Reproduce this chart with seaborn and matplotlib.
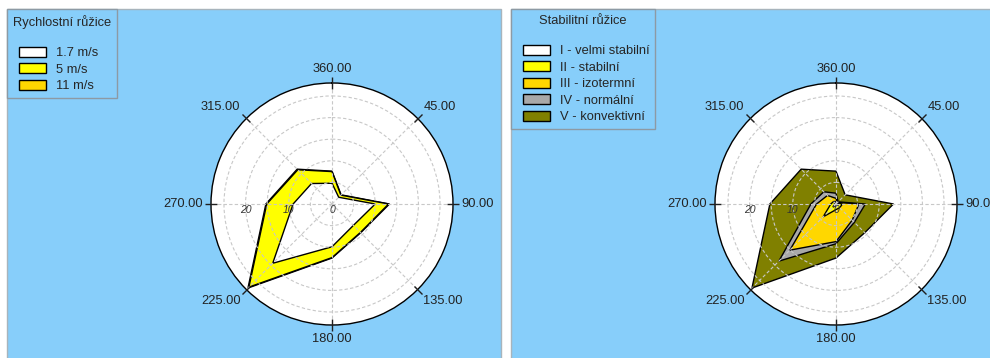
import numpy as np
import matplotlib
matplotlib.use("Agg")
import matplotlib.pyplot as plt
from matplotlib.patches import Rectangle, Patch
from matplotlib.legend_handler import HandlerPatch
from matplotlib.transforms import ScaledTranslation
import seaborn as sns

# ---------------- data ----------------
directions = [0, 45, 90, 135, 180, 225, 270, 315]
direction_labels = ["360.00", "45.00", "90.00", "135.00", "180.00", "225.00", "270.00", "315.00"]

speed_title = "Rychlostní růžice"
speed_labels = ["1.7 m/s", "5 m/s", "11 m/s"]
speed_1_7 = [4.8, 2.2, 10.0, 7.0, 9.9, 19.4, 9.0, 6.7]
speed_5 = [2.7, 0.7, 3.1, 2.3, 2.5, 7.8, 6.1, 4.5]
speed_11 = [0.1, 0.1, 0.2, 0.1, 0.1, 0.3, 0.2, 0.2]
speed_colors = ["#FFFFFF", "#FFFF00", "#FFD700"]

stab_title = "Stabilitní růžice"
stab_labels = ["I - velmi stabilní", "II - stabilní", "III - izotermní", "IV - normální", "V - konvektivní"]
stab_I = [0.3, 0.1, 0.4, 0.3, 0.4, 1.0, 0.4, 0.3]
stab_II = [0.3, 0.2, 1.1, 0.9, 0.9, 3.2, 0.8, 0.5]
stab_III = [0.7, 0.2, 3.8, 4.1, 7.4, 10.9, 3.3, 2.0]
stab_IV = [1.2, 0.2, 1.5, 0.7, 0.5, 3.6, 1.3, 1.2]
stab_V = [5.1, 2.3, 6.5, 3.4, 3.3, 8.8, 9.5, 7.4]
stab_colors = ["#FFFFFF", "#FFFF00", "#FFD700", "#A9A9A9", "#808000"]

radial_ticks = [0, 5, 10, 15, 20, 25]
radial_labels = ["0", "", "10", "", "20", ""]
r_max = 28

# ---------------- style ----------------
sns.set_theme(style="white")
plt.rcParams["font.family"] = ["Liberation Sans", "DejaVu Sans"]

PANEL = "#87CEFA"
W, H = 990, 358
FS = 9.3
fig = plt.figure(figsize=(W / 100, H / 100), dpi=100)
fig.patch.set_facecolor("white")

# panels
for x0, x1 in [(7, 501), (511, 995)]:
    fig.add_artist(Rectangle((x0 / W, -0.02), (x1 - x0) / W, 1 - 9 / H + 0.02,
                             transform=fig.transFigure, facecolor=PANEL,
                             edgecolor="#a8b4bc", linewidth=1.0, zorder=0))

INDENT = 6 * 72 / 100  # points


def indented_rect(legend, orig_handle, xdescent, ydescent, width, height, fontsize):
    return Rectangle((-xdescent + INDENT, -ydescent), width - INDENT, height)


def draw_rose(cx, layers, colors, labels, title, leg_x, align):
    R = 121
    ax = fig.add_axes([(cx - R) / W, (H - 204 - R) / H, 2 * R / W, 2 * R / H],
                      projection="polar")
    ax.set_facecolor("white")
    ax.set_theta_zero_location("N")
    ax.set_theta_direction(-1)
    ax.set_ylim(0, r_max)
    ax.set_axisbelow(False)

    theta = np.deg2rad(directions + [directions[0]])
    cum = np.cumsum(np.array(layers), axis=0)
    n = len(layers)
    for i in reversed(range(n)):
        r = list(cum[i]) + [cum[i][0]]
        ax.fill(theta, r, facecolor=colors[i], edgecolor="black",
                linewidth=1.0, zorder=1 + (n - i) * 0.1)

    ax.set_xticks(np.deg2rad(directions))
    ax.set_xticklabels(direction_labels)
    ax.tick_params(axis="x", which="major", bottom=False, top=True,
                   labelbottom=True, labeltop=False, length=4,
                   direction="inout", width=1, color="#202020", pad=-3,
                   labelsize=FS, labelcolor="#222222")
    for lbl, d in zip(ax.get_xticklabels(), directions):
        ha = "center" if d in (0, 180) else ("left" if d < 180 else "right")
        va = "center" if d in (90, 270) else ("bottom" if (d < 90 or d > 270) else "top")
        lbl.set_ha(ha)
        lbl.set_va(va)

    ax.set_yticks(radial_ticks)
    ax.set_yticklabels([])
    ax.grid(True, color="#c8c8c8", linestyle=(0, (3, 2)), linewidth=0.8)
    ax.spines["polar"].set_color("black")
    ax.spines["polar"].set_linewidth(1.0)

    off = ScaledTranslation(0, -4 / 72, fig.dpi_scale_trans)
    for rt, lbl in zip(radial_ticks, radial_labels):
        if lbl:
            ax.text(np.deg2rad(270), rt, lbl, ha="center", va="center",
                    fontsize=7.5, fontstyle="italic", color="#333333",
                    transform=ax.transData + off, zorder=5)

    handles = [Patch(facecolor=c, edgecolor="black", linewidth=1.0) for c in colors]
    leg = fig.legend(handles, labels, title=title + "\n", loc="upper left",
                     bbox_to_anchor=(leg_x / W, 1 - 9 / H), bbox_transform=fig.transFigure,
                     frameon=True, fancybox=False, borderaxespad=0, fontsize=FS,
                     title_fontsize=FS, handlelength=2.55, handleheight=0.85,
                     labelspacing=0.3, handletextpad=0.77, borderpad=0.46,
                     alignment=align,
                     handler_map={Patch: HandlerPatch(patch_func=indented_rect)})
    fr = leg.get_frame()
    fr.set_facecolor(PANEL)
    fr.set_edgecolor("#8d9aa4")
    fr.set_linewidth(1.0)
    fr.set_alpha(1)
    return ax


draw_rose(332, [speed_1_7, speed_5, speed_11], speed_colors, speed_labels,
          speed_title, 7, "left")
draw_rose(836, [stab_I, stab_II, stab_III, stab_IV, stab_V], stab_colors, stab_labels,
          stab_title, 511, "center")

fig.savefig("out.png", dpi=100, facecolor=fig.get_facecolor())
